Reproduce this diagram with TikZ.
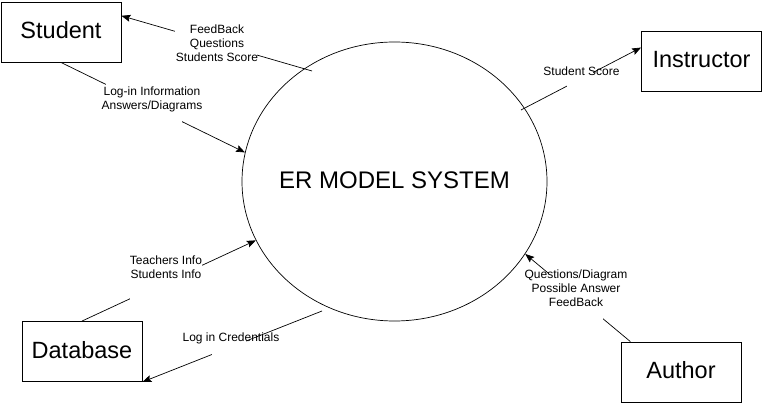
\documentclass[tikz,border=0pt]{standalone}
\usepackage{fontspec}
\setmainfont{Liberation Sans}
\usetikzlibrary{arrows.meta,shapes.geometric}
\pgfdeclarelayer{lines}
\pgfdeclarelayer{mask}
\pgfsetlayers{lines,mask,main}
\tikzset{
  entity/.style={draw=black, line width=0.9pt, fill=white, minimum width=120pt, minimum height=60pt, inner sep=0pt, text depth=0.4em, font=\fontsize{23.5}{28}\selectfont},
  process/.style={draw=black, line width=0.7pt, ellipse, minimum width=305pt, minimum height=279pt, inner sep=0pt, text depth=0.3em, font=\fontsize{24}{28}\selectfont},
  flow/.style={draw=black, line width=0.7pt, -{Stealth[length=9pt,width=7pt,inset=1.5pt]}},
  flowlabel/.style={inner sep=1pt, align=center, font=\fontsize{12}{13.8}\selectfont},
  gap/.style={fill=white}
}
\begin{document}
\begin{tikzpicture}[x=1pt,y=-1pt]
\useasboundingbox (0,0) rectangle (763,406);
\node[process] (er) at (394.5,181.5) {\makebox[0pt]{ER MODEL SYSTEM}};
\node[entity] (student) at (61,32) {Student};
\node[entity] (instructor) at (701.5,61.5) {Instructor};
\node[entity] (database) at (82,351.5) {Database};
\node[entity] (author) at (681,372) {Author};
\coordinate (fbstart) at (312,71);
\coordinate (scstart) at (521,110);
\coordinate (crstart) at (322,311);
% connectors
\begin{pgfonlayer}{lines}
\draw[flow] (fbstart) -- (student.15);
\draw[flow] (student.south) -- (er.169);
\draw[flow] (scstart) -- (instructor.167);
\draw[flow] (database.north) -- (er.203);
\draw[flow] (crstart) -- (database.south east);
\draw[flow] (author.149) -- (er.-29);
\end{pgfonlayer}
% gaps in the connectors behind the labels
\begin{pgfonlayer}{mask}
\fill[gap] (175,27) rectangle (257,59);
\fill[gap] (106,80) rectangle (182,126);
\fill[gap] (567,69) rectangle (593,90);
\fill[gap] (130,260) rectangle (202,302);
\fill[gap] (212,337) rectangle (246,358);
\fill[gap] (549,270) rectangle (603,322);
\end{pgfonlayer}
% labels
\node[flowlabel] (lfb) at (217,43) {FeedBack\\Questions\\Students Score};
\node[flowlabel] (llog) at (152,99) {Log-in Information\\Answers/Diagrams};
\node[flowlabel] (lsc) at (581.5,71) {Student Score};
\node[flowlabel] (ldb) at (166,267) {Teachers Info\\Students Info};
\node[flowlabel] (lcr) at (231,338.5) {Log in Credentials};
\node[flowlabel] (lau) at (576,288) {Questions/Diagram\\Possible Answer\\FeedBack};
\end{tikzpicture}
\end{document}
